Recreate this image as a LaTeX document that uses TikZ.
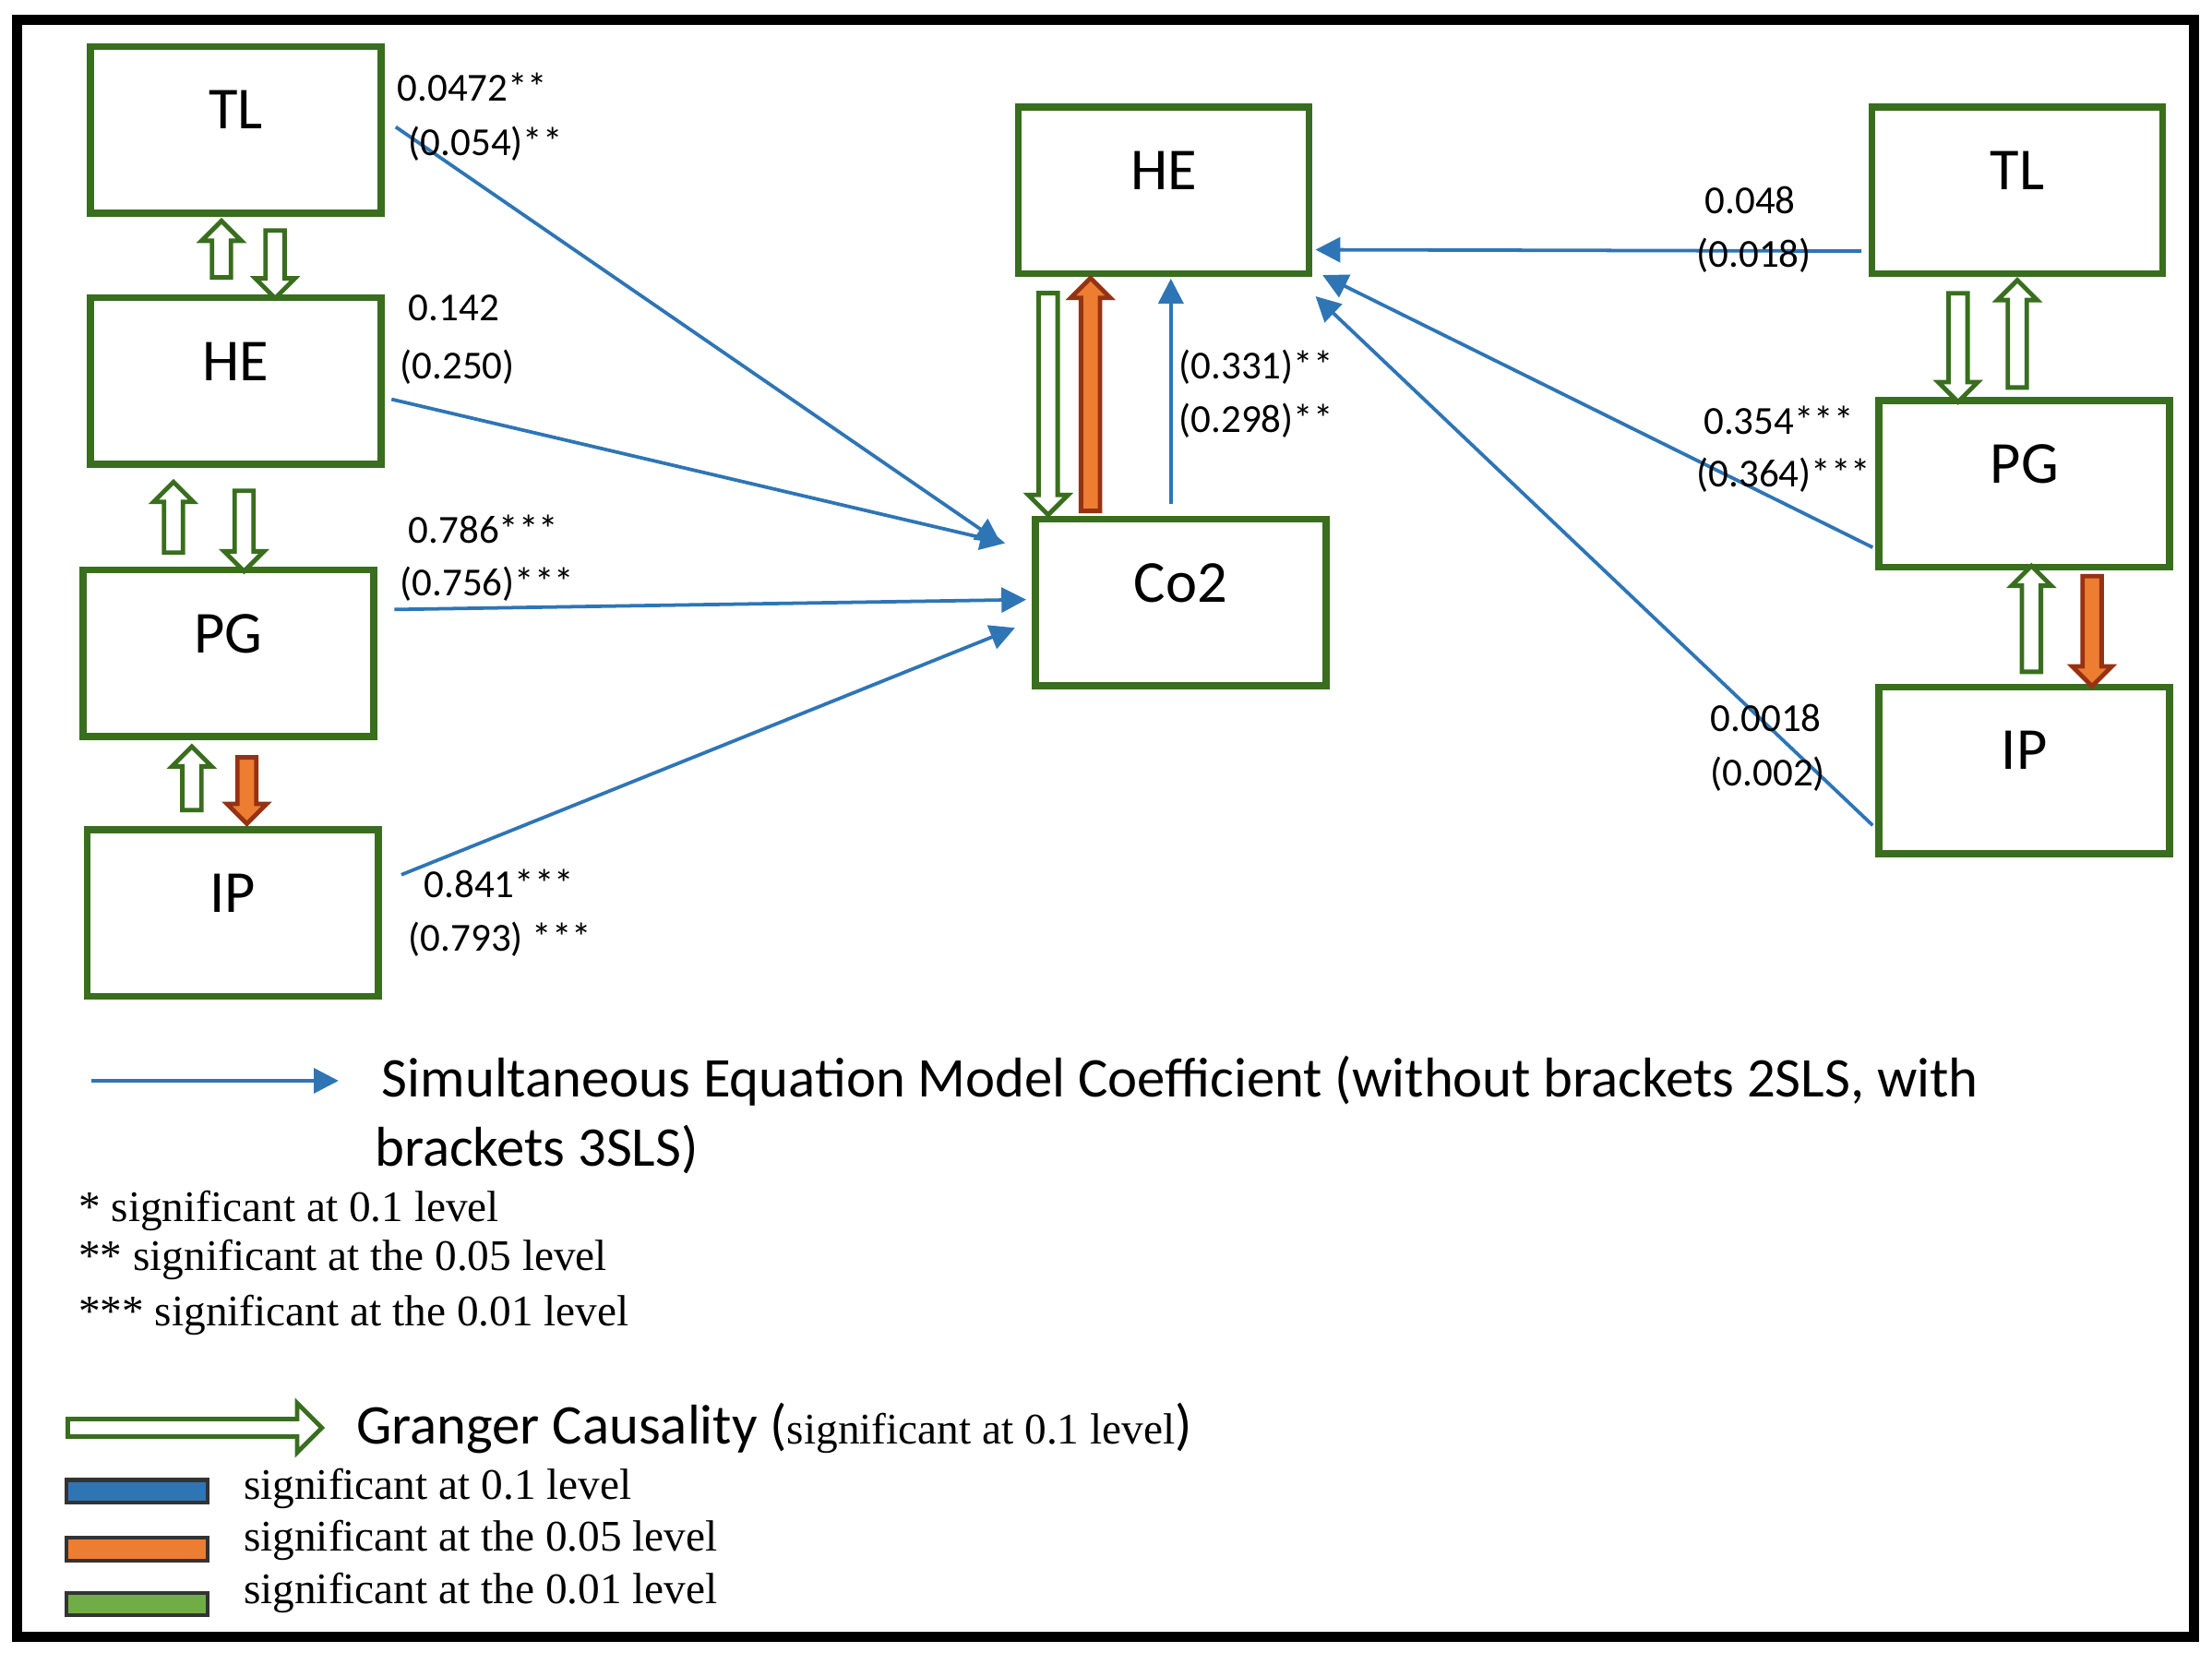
\documentclass[tikz,border=0pt]{standalone}
\usepackage{fontspec}
\setmainfont{Carlito}
\newfontfamily\srf{Liberation Serif}
\usetikzlibrary{calc,positioning,shapes.arrows,arrows.meta}
\definecolor{boxgreen}{RGB}{56,110,30}
\definecolor{lnblue}{RGB}{46,117,182}
\definecolor{gcred}{RGB}{150,50,20}
\definecolor{gcorange}{RGB}{237,125,49}
\definecolor{swgreen}{RGB}{112,173,71}
\tikzset{
  box/.style={draw=boxgreen, line width=1.4pt, minimum width=2.06cm,
    minimum height=1.18cm, inner sep=0pt},
  boxtxt/.style={font=\fontsize{12}{14}\selectfont, yshift=0.14cm},
  coef/.style={-{Triangle[length=5pt,width=5pt]}, lnblue, line width=0.7pt},
  num/.style={font=\fontsize{8}{10}\selectfont, anchor=west, inner sep=0pt},
  gc/.style={single arrow, draw=boxgreen, fill=white, line width=0.9pt,
    inner sep=1.2pt, single arrow head extend=1.8pt, minimum width=8pt},
  gcs/.style={gc, draw=gcred, fill=gcorange},
  swatch/.style={draw=black!80, line width=0.8pt, minimum width=1cm,
    minimum height=0.16cm, inner sep=0pt},
  lgd/.style={font=\fontsize{11.3}{13}\selectfont, anchor=west, inner sep=0pt},
  stars/.style={font=\srf\fontsize{8.8}{11}\selectfont, anchor=west, inner sep=0pt}
}
\begin{document}
\begin{tikzpicture}[x=0.01cm, y=-0.01cm]
  \useasboundingbox (0,0) rectangle (1568,1171);
  \draw[line width=2pt] (12,14) rectangle (1555,1160);

  % left column
  \node[box, label={[boxtxt]center:TL}] (lTL) at (167,92) {};
  \node[box, label={[boxtxt]center:HE}] (lHE) at (167,270) {};
  \node[box, label={[boxtxt]center:PG}] (lPG) at (162,463) {};
  \node[box, label={[boxtxt]center:IP}] (lIP) at (165,647) {};
  % centre
  \node[box, label={[boxtxt]center:HE}] (cHE) at (825,135) {};
  \node[box, label={[boxtxt]center:Co2}] (co2) at (837,427) {};
  % right column
  \node[box, label={[boxtxt]center:TL}] (rTL) at (1430,135) {};
  \node[box, label={[boxtxt]center:PG}] (rPG) at (1435,343) {};
  \node[box, label={[boxtxt]center:IP}] (rIP) at (1435,546) {};

  % coefficients into Co2
  \draw[coef] ($(lTL.east)+(8,-2)$) -- ($(co2.west)+(-22,-42)$);
  \draw[coef] ($(lHE.east)+(5,13)$) -- ($(co2.west)+(-19,-42)$);
  \draw[coef] ($(lPG.east)+(12,-31)$) -- ($(co2.west)+(-4,-2)$);
  \draw[coef] ($(lIP.east)+(14,-27)$) -- ($(co2.west)+(-12,18)$);
  % coefficients into HE
  \draw[coef] ($(co2.north)+(-7,-8)$) -- ($(cHE.south)+(5,1)$);
  \draw[coef] ($(rTL.west)+(-5,43)$) -- ($(cHE.east)+(2,42)$);
  \draw[coef] ($(rPG.west)+(-2,45)$) -- ($(cHE.east)+(7,60)$);
  \draw[coef] ($(rIP.west)+(-2,39)$) -- ($(cHE.east)+(2,75)$);

  \node[num] (n1) at (281,62) {0.0472**};
  \node[num] (n2) at (289,102) {(0.054)**};
  \node[num] (n3) at (289,218) {0.142};
  \node[num] (n4) at (283,260) {(0.250)};
  \node[num] (n5) at (289,375) {0.786***};
  \node[num] (n6) at (283,414) {(0.756)***};
  \node[num] (n7) at (300,626) {0.841***};
  \node[num] (n8) at (289,666) {(0.793) ***};
  \node[num] (n9) at (835,260) {(0.331)**};
  \node[num] (n10) at (835,298) {(0.298)**};
  \node[num] (n11) at (1208,142) {0.048};
  \node[num] (n12) at (1202,181) {(0.018)};
  \node[num] (n13) at (1207,298) {0.354***};
  \node[num] (n14) at (1202,337) {(0.364)***};
  \node[num] (n15) at (1212,509) {0.0018};
  \node[num] (n16) at (1212,549) {(0.002)};

  % Granger causality
  \node[gc, rotate=90, minimum height=0.40cm] (g1) at (157,180) {};
  \node[gc, rotate=-90, minimum height=0.48cm] (g2) at (195,184) {};
  \node[gc, rotate=90, minimum height=0.50cm] (g3) at (123,370) {};
  \node[gc, rotate=-90, minimum height=0.57cm] (g4) at (173,373) {};
  \node[gc, rotate=90, minimum height=0.45cm] (g5) at (136,555) {};
  \node[gcs, rotate=-90, minimum height=0.47cm] (g6) at (175,557) {};
  \node[gc, rotate=-90, minimum height=1.57cm] (g7) at (743,283) {};
  \node[gcs, rotate=90, minimum height=1.65cm] (g8) at (773,283) {};
  \node[gc, rotate=-90, minimum height=0.77cm] (g9) at (1388,243) {};
  \node[gc, rotate=90, minimum height=0.76cm] (g10) at (1430,240) {};
  \node[gc, rotate=90, minimum height=0.75cm] (g11) at (1440,442) {};
  \node[gcs, rotate=-90, minimum height=0.78cm] (g12) at (1483,444) {};

  % legend
  \coordinate (lg1) at (65,766);
  \coordinate (lg2) at (240,766);
  \draw[coef] (lg1) -- (lg2);
  \node[lgd] (sem) at (270,766) {Simultaneous Equation Model Coefficient (without brackets 2SLS, with};
  \node[lgd] (sem2) at (265,815) {brackets 3SLS)};
  \node[stars] (s1) at (55,858) {* significant at 0.1 level};
  \node[stars] (s2) at (55,893) {** significant at the 0.05 level};
  \node[stars] (s3) at (55,932) {*** significant at the 0.01 level};
  \node[gc, minimum height=1.8cm, single arrow head extend=3pt, minimum width=10pt] (lgc) at (135,1012) {};
  \node[lgd] (gct) at (252,1012) {Granger Causality ({\srf\fontsize{8.8}{11}\selectfont significant at 0.1 level})};
  \node[swatch, fill=lnblue] (sw1) at (97,1057) {};
  \node[swatch, fill=gcorange] (sw2) at (97,1098) {};
  \node[swatch, fill=swgreen] (sw3) at (97,1137) {};
  \node[stars] (t1) at (172,1055) {significant at 0.1 level};
  \node[stars] (t2) at (172,1092) {significant at the 0.05 level};
  \node[stars] (t3) at (172,1129) {significant at the 0.01 level};
\end{tikzpicture}
\end{document}
